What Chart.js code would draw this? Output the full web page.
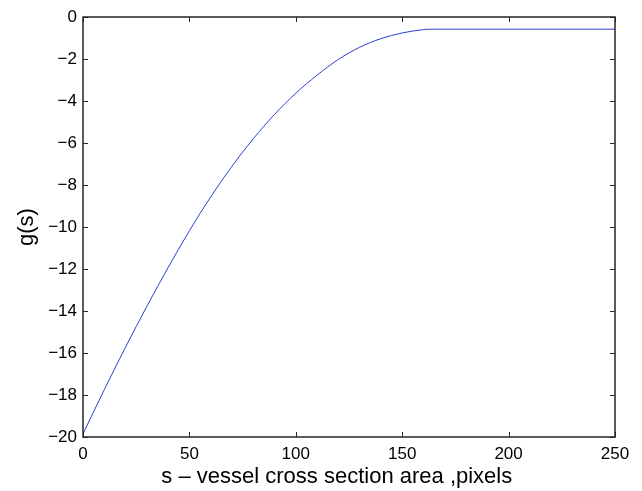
<!DOCTYPE html>
<html>
<head>
<meta charset="utf-8">
<script src="https://cdn.jsdelivr.net/npm/chart.js@4/dist/chart.umd.min.js"></script>
<style>
  html, body { margin: 0; padding: 0; background: #fff; }
  #wrap { width: 642px; height: 491px; }
</style>
</head>
<body>
<div id="wrap"><canvas id="c" width="642" height="491"></canvas></div>
<script>
// values
var sValues = [0, 10, 20, 30, 40, 50, 60, 70, 80, 90, 100, 110, 120, 130, 140, 150, 160, 163, 180, 200, 220, 250];
var gValues = [-19.85, -17.75, -15.72, -13.78, -11.93, -10.18, -8.57, -7.11, -5.80, -4.64, -3.63, -2.77, -2.02, -1.44, -1.03, -0.76, -0.60, -0.58, -0.58, -0.58, -0.58, -0.58];
var xTicks = [0, 50, 100, 150, 200, 250];
var yTicks = [0, -2, -4, -6, -8, -10, -12, -14, -16, -18, -20];

var axisColor = '#262626';
var fontFamily = '"Liberation Sans", Arial, Helvetica, sans-serif';

var points = sValues.map(function (s, i) {
    return { x: s, y: gValues[i] };
});

// matlab style box with inward ticks
var boxTicks = {
    id: 'boxTicks',
    afterDraw: function (chart) {
        var ctx = chart.ctx,
            a = chart.chartArea,
            xs = chart.scales.x,
            ys = chart.scales.y,
            len = 5;

        ctx.save();
        ctx.strokeStyle = axisColor;
        ctx.lineWidth = 1;
        ctx.beginPath();
        xTicks.forEach(function (v) {
            var px = Math.round(xs.getPixelForValue(v)) + 0.5;
            ctx.moveTo(px, a.bottom); ctx.lineTo(px, a.bottom - len);
            ctx.moveTo(px, a.top); ctx.lineTo(px, a.top + len);
        });
        yTicks.forEach(function (v) {
            var py = Math.round(ys.getPixelForValue(v)) + 0.5;
            ctx.moveTo(a.left, py); ctx.lineTo(a.left + len, py);
            ctx.moveTo(a.right, py); ctx.lineTo(a.right - len, py);
        });
        ctx.stroke();

        ctx.lineWidth = 1.5;
        ctx.strokeRect(a.left, a.top, a.right - a.left, a.bottom - a.top);
        ctx.restore();
    }
};

new Chart(document.getElementById('c').getContext('2d'), {
    type: 'scatter',
    data: {
        datasets: [{
            data: points,
            showLine: true,
            borderColor: '#2a40d0',
            borderWidth: 1,
            pointRadius: 0,
            cubicInterpolationMode: 'monotone',
            fill: false
        }]
    },
    options: {
        responsive: false,
        animation: false,
        layout: { padding: { top: 17, right: 27, left: 0, bottom: 0 } },
        plugins: { legend: { display: false }, tooltip: { enabled: false } },
        scales: {
            x: {
                type: 'linear',
                min: 0,
                max: 250,
                afterBuildTicks: function (scale) {
                    scale.ticks = xTicks.map(function (v) { return { value: v }; });
                },
                afterFit: function (scale) { scale.height = 54; },
                grid: { display: false, drawTicks: false },
                border: { display: false },
                ticks: {
                    color: '#000',
                    padding: 7,
                    maxRotation: 0,
                    font: { family: fontFamily, size: 17 }
                },
                title: {
                    display: true,
                    text: 's \u2013 vessel cross section area ,pixels\u00a0\u00a0\u00a0\u00a0',
                    color: '#000',
                    padding: { top: 0, bottom: 1 },
                    font: { family: fontFamily, size: 22 }
                }
            },
            y: {
                type: 'linear',
                min: -20,
                max: 0,
                afterBuildTicks: function (scale) {
                    scale.ticks = yTicks.map(function (v) { return { value: v }; });
                },
                afterFit: function (scale) { scale.width = 83; },
                grid: { display: false, drawTicks: false },
                border: { display: false },
                ticks: {
                    color: '#000',
                    padding: 6,
                    font: { family: fontFamily, size: 17 },
                    callback: function (v) { return String(v).replace('-', '\u2212'); }
                },
                title: {
                    display: true,
                    text: 'g(s)',
                    color: '#000',
                    padding: { top: 14, bottom: 0 },
                    font: { family: fontFamily, size: 22 }
                }
            }
        }
    },
    plugins: [boxTicks]
});
</script>
</body>
</html>
